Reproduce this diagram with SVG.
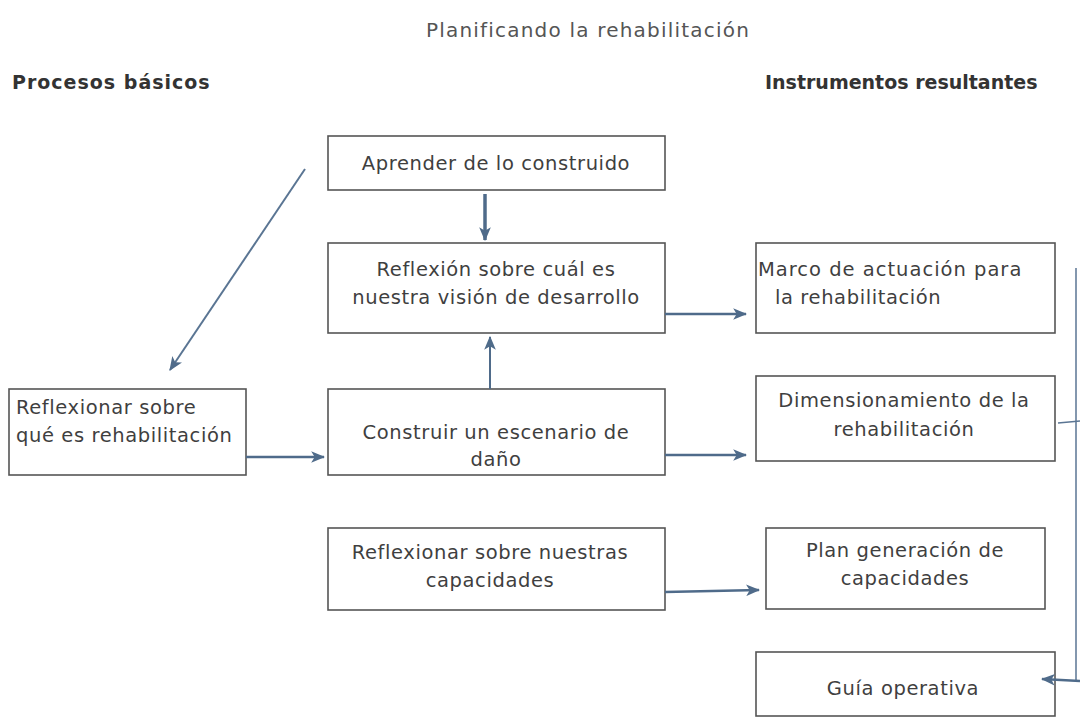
<svg xmlns="http://www.w3.org/2000/svg" width="1080" height="717" viewBox="0 0 1080 717">
<defs>
<marker id="ah" viewBox="0 0 12 10" refX="11" refY="5" markerWidth="14" markerHeight="12" orient="auto" markerUnits="userSpaceOnUse">
<path d="M0,0 L12,5 L0,10 L3,5 z" fill="#4f6b8a"/>
</marker>
<style>
.box{fill:#fff;stroke:#555;stroke-width:1.6}
.t{font-family:"DejaVu Sans",sans-serif;font-size:19.5px;letter-spacing:0.6px;fill:#3f3f3f}
.c{text-anchor:middle}
.h{font-family:"DejaVu Sans",sans-serif;font-size:19px;letter-spacing:0.3px;font-weight:bold;fill:#333}
.ln{stroke:#4f6b8a;stroke-width:2.5;fill:none}
.thin{stroke:#5a7593;stroke-width:1.5;fill:none}
</style>
</defs>
<rect width="1080" height="717" fill="#fff"/>
<text class="t c" x="588" y="37" style="font-size:20px;letter-spacing:1.2px;fill:#555">Planificando la rehabilitación</text>
<text class="h" x="12" y="89" style="letter-spacing:1px">Procesos básicos</text>
<text class="h" x="765" y="89" style="letter-spacing:0">Instrumentos resultantes</text>

<g id="n-aprender">
<rect class="box" x="328" y="136" width="337" height="54"/>
<text class="t c" x="496" y="170">Aprender de lo construido</text>
</g>
<g id="n-vision">
<rect class="box" x="328" y="243" width="337" height="90"/>
<text class="t c" x="496" y="276">Reflexión sobre cuál es</text>
<text class="t c" x="496" y="304">nuestra visión de desarrollo</text>
</g>
<g id="n-que-es">
<rect class="box" x="9" y="389" width="237" height="86"/>
<text class="t" x="16" y="414">Reflexionar sobre</text>
<text class="t" x="16" y="442">qué es rehabilitación</text>
</g>
<g id="n-escenario">
<rect class="box" x="328" y="389" width="337" height="86"/>
<text class="t c" x="496" y="439">Construir un escenario de</text>
<text class="t c" x="496" y="466">daño</text>
</g>
<g id="n-capacidades">
<rect class="box" x="328" y="528" width="337" height="82"/>
<text class="t c" x="490" y="559">Reflexionar sobre nuestras</text>
<text class="t c" x="490" y="587">capacidades</text>
</g>
<g id="n-marco">
<rect class="box" x="756" y="243" width="299" height="90"/>
<text class="t" x="758" y="276" style="letter-spacing:1px">Marco de actuación para</text>
<text class="t" x="775" y="304">la rehabilitación</text>
</g>
<g id="n-dimensionamiento">
<rect class="box" x="756" y="376" width="299" height="85"/>
<text class="t c" x="904" y="407">Dimensionamiento de la</text>
<text class="t c" x="904" y="436">rehabilitación</text>
</g>
<g id="n-plan">
<rect class="box" x="766" y="528" width="279" height="81"/>
<text class="t c" x="905" y="557">Plan generación de</text>
<text class="t c" x="905" y="585">capacidades</text>
</g>
<g id="n-guia">
<rect class="box" x="756" y="652" width="299" height="64"/>
<text class="t c" x="903" y="695">Guía operativa</text>
</g>

<g id="connectors">
<line class="thin" x1="305" y1="169" x2="170" y2="370" marker-end="url(#ah)" style="stroke-width:2"/>
<line class="ln" x1="485" y1="194" x2="485" y2="240" marker-end="url(#ah)" style="stroke-width:3.5"/>
<line class="ln" x1="490" y1="389" x2="490" y2="337" marker-end="url(#ah)" style="stroke-width:2"/>
<line class="ln" x1="665" y1="314" x2="746" y2="314" marker-end="url(#ah)"/>
<line class="ln" x1="246" y1="457" x2="324" y2="457" marker-end="url(#ah)"/>
<line class="ln" x1="665" y1="455" x2="746" y2="455" marker-end="url(#ah)"/>
<line class="ln" x1="665" y1="592" x2="759" y2="590" marker-end="url(#ah)"/>
<polyline class="thin" points="1076,268 1076,680"/>
<line class="thin" x1="1058" y1="423" x2="1080" y2="421"/>
<line class="ln" x1="1080" y1="681" x2="1042" y2="679" marker-end="url(#ah)"/>
</g>
</svg>
